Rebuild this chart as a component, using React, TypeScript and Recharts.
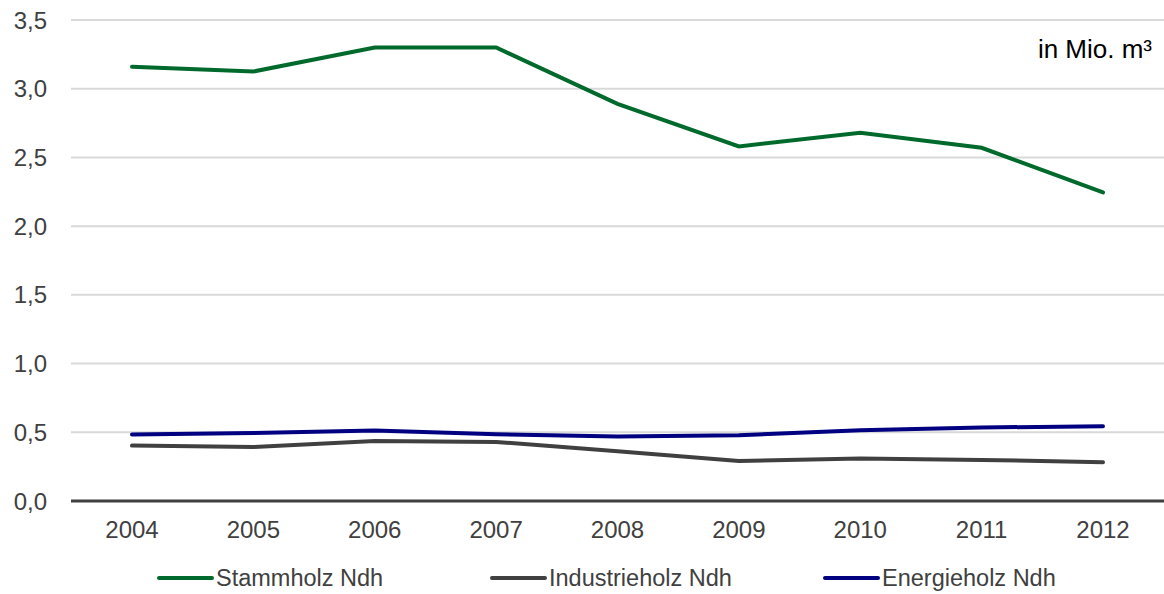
import React from "react";
import { LineChart, Line, XAxis, YAxis, CartesianGrid, Legend } from "recharts";

const years = ["2004", "2005", "2006", "2007", "2008", "2009", "2010", "2011", "2012"];
const stammholz = [3.16, 3.125, 3.3, 3.3, 2.89, 2.58, 2.68, 2.57, 2.245];
const industrieholz = [0.403, 0.393, 0.437, 0.43, 0.362, 0.291, 0.309, 0.299, 0.282];
const energieholz = [0.484, 0.495, 0.513, 0.486, 0.469, 0.478, 0.515, 0.535, 0.544];
const yTicks = [0, 0.5, 1, 1.5, 2, 2.5, 3, 3.5];

const series = [
  { key: "stamm", name: "Stammholz Ndh", color: "#006A2C" },
  { key: "industrie", name: "Industrieholz Ndh", color: "#404040" },
  { key: "energie", name: "Energieholz Ndh", color: "#000080" },
];

const data = years.map((year, i) => ({
  year,
  stamm: stammholz[i],
  industrie: industrieholz[i],
  energie: energieholz[i],
}));

const font = "'Liberation Sans', Arial, sans-serif";

const fmt = (v: number) => v.toFixed(1).replace(".", ",");

const LegendContent = () => (
  <div style={{ display: "flex", height: 32, alignItems: "center", paddingLeft: 157, fontFamily: font, fontSize: 23.5, color: "#404040" }}>
    {series.map((s) => (
      <div key={s.key} style={{ width: 333, display: "flex", alignItems: "center" }}>
        <div style={{ width: 57, height: 4, background: s.color, borderRadius: 2, marginRight: 2 }} />
        <span>{s.name}</span>
      </div>
    ))}
  </div>
);

export default function App() {
  return (
    <div style={{ position: "absolute", left: 0, top: 0, width: 1164, height: 594, background: "#fff" }}>
      <LineChart width={1164} height={594} data={data} margin={{ top: 20, right: 0, left: 0, bottom: 0 }}>
        <CartesianGrid vertical={false} stroke="#D9D9D9" strokeWidth={2} />
        <XAxis
          dataKey="year"
          axisLine={{ stroke: "#404040", strokeWidth: 3 }}
          tickLine={false}
          tickSize={0}
          tickMargin={20}
          height={61}
          padding={{ left: 61, right: 61 }}
          tick={{ fill: "#404040", fontSize: 24, fontFamily: font }}
        />
        <YAxis
          domain={[0, 3.5]}
          ticks={yTicks}
          tickFormatter={fmt}
          axisLine={false}
          tickLine={false}
          tickSize={0}
          tickMargin={24}
          width={71}
          tick={{ fill: "#404040", fontSize: 24, fontFamily: font }}
        />
        <Legend verticalAlign="bottom" content={<LegendContent />} />
        {series.map((s) => (
          <Line
            key={s.key}
            dataKey={s.key}
            name={s.name}
            stroke={s.color}
            strokeWidth={4}
            dot={false}
            activeDot={false}
            strokeLinecap="round"
            type="linear"
            isAnimationActive={false}
          />
        ))}
      </LineChart>
      <div style={{ position: "absolute", right: 12, top: 34, fontFamily: font, fontSize: 26, color: "#000" }}>
        in Mio. m³
      </div>
    </div>
  );
}
